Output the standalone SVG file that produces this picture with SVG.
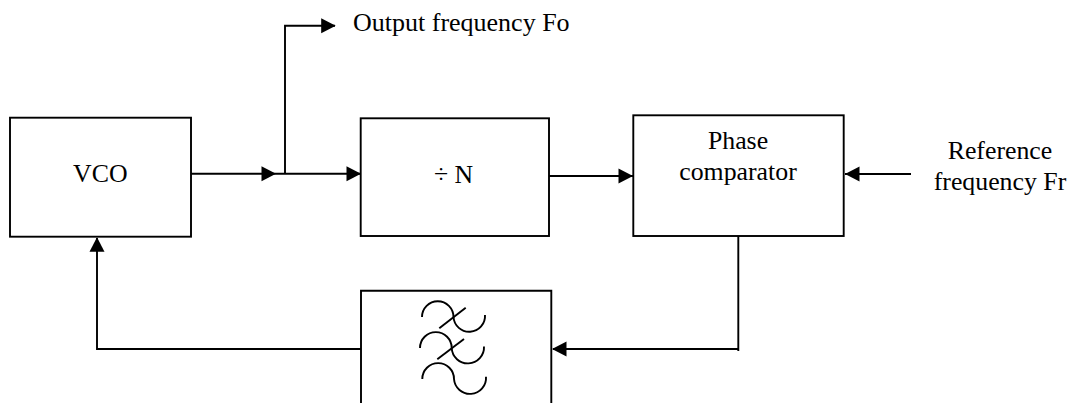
<svg xmlns="http://www.w3.org/2000/svg" width="1070" height="403" viewBox="0 0 1070 403">
<style>
.b{fill:none;stroke:#000;stroke-width:1.9}
.c{fill:none;stroke:#000;stroke-width:1.9}
.t{font-family:"Liberation Serif",serif;font-size:25.8px;fill:#000;text-anchor:middle}
.l{font-family:"Liberation Serif",serif;font-size:26px;fill:#000}
.a{fill:#000;stroke:none}
</style>
<defs><path id="ah" class="a" d="M0 0L-14.5 -7.5L-14.5 7.5Z"/></defs>
<rect width="1070" height="403" fill="#fff"/>
<g id="connectors">
<path class="c" d="M191 173.7H276"/><use href="#ah" x="276" y="173.7"/>
<path class="c" d="M276 173.7H361"/><use href="#ah" x="361" y="173.7"/>
<path class="c" d="M285 173.7V25.7H335"/><use href="#ah" x="335.7" y="25.7"/>
<path class="c" d="M549 176H633"/><use href="#ah" x="633" y="176"/>
<path class="c" d="M911 174H845"/><use href="#ah" x="845" y="174" transform="rotate(180 845 174)"/>
<path class="c" d="M738.3 236V351M738.3 349H553"/><use href="#ah" x="552" y="349" transform="rotate(180 552 349)"/>
<path class="c" d="M361 349H97V238"/><use href="#ah" x="97" y="237.3" transform="rotate(-90 97 237.3)"/>
</g>
<g id="vco"><rect class="b" x="10" y="117.7" width="181" height="119"/><text class="t" x="100.3" y="181.5">VCO</text></g>
<g id="divider"><rect class="b" x="360.7" y="118.3" width="188.3" height="117.7"/><text class="t" x="453.5" y="183">÷ N</text></g>
<g id="phase-comparator"><rect class="b" x="633.3" y="115.3" width="210.4" height="120.7"/><text class="t" x="738" y="149">Phase</text><text class="t" x="738" y="180">comparator</text></g>
<g id="filter">
<path class="b" d="M361 403V290.7H551.3V403"/>
<path class="c" d="M422 317A15.7 15.7 0 0 1 453.5 317A15.7 15.7 0 0 0 485 315"/>
<path class="c" d="M439.3 328.3L465.7 307.7"/>
<path class="c" d="M420 348A15.7 15.7 0 0 1 451.7 348A15.7 15.7 0 0 0 484 346.5"/>
<path class="c" d="M437.3 359.3L464 339"/>
<path class="c" d="M422.3 379A15.7 15.7 0 0 1 454 379A15.7 15.7 0 0 0 486 376.7"/>
</g>
<g id="output-label"><text class="l" x="353" y="31">Output frequency Fo</text></g>
<g id="reference-label"><text class="t" x="1000" y="158.5">Reference</text><text class="t" x="1000" y="189.5">frequency Fr</text></g>
</svg>
